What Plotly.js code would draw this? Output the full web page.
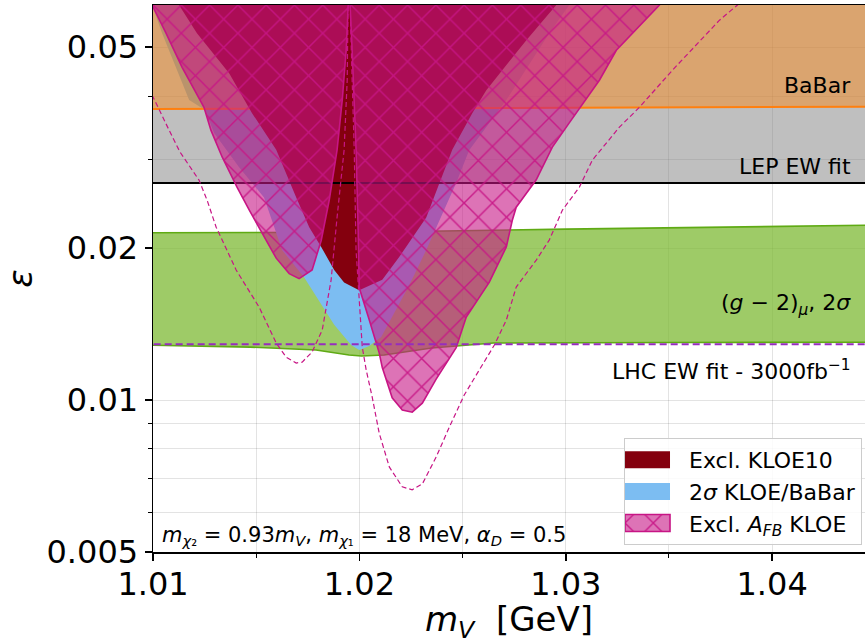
<!DOCTYPE html>
<html>
<head>
<meta charset="utf-8">
<script src="https://cdn.plot.ly/plotly-3.0.1.min.js"></script>
<style>html,body{margin:0;padding:0;background:#fff;}#chart{width:865px;height:644px;}</style>
</head>
<body>
<div id="chart"></div>
<script>
// ---------- data ----------
const xTicks = [1.01, 1.02, 1.03, 1.04];
const xTickText = ['1.01', '1.02', '1.03', '1.04'];
const yTicks = [0.005, 0.01, 0.02, 0.05];
const yTickText = ['0.005', '0.01', '0.02', '0.05'];

// BaBar bound (lower edge of excluded region)
const babarX = [1.0095, 1.045];
const babarY = [0.0377, 0.0381];
// LEP EW fit bound
const lepX = [1.0095, 1.045];
const lepY = [0.0269, 0.0269];
// LHC EW fit projection
const lhcX = [1.0095, 1.045];
const lhcY = [0.0129, 0.0129];
const yTop = 0.07;

// (g-2)_mu 2 sigma band
const g2TopX = [1.0095, 1.02, 1.03, 1.04, 1.045];
const g2TopY = [0.02145, 0.0215, 0.0218, 0.0221, 0.0222];
const g2BotX = [1.0095, 1.0147, 1.0179, 1.0195, 1.0201, 1.0212, 1.0235, 1.0265, 1.035, 1.045];
const g2BotY = [0.01285, 0.01273, 0.01256, 0.01228, 0.01222, 0.01228, 0.01268, 0.01297, 0.0130, 0.01302];

// 2 sigma KLOE/BaBar band
const blueLeftX = [1.0097, 1.00995, 1.01044, 1.01175, 1.01252, 1.01296, 1.01417, 1.01538, 1.01626, 1.01732, 1.01878, 1.01960, 1.01999];
const blueLeftY = [0.07, 0.0606, 0.0533, 0.0393, 0.03752, 0.0338, 0.0289, 0.0252, 0.0198, 0.0175, 0.0141, 0.01285, 0.01256];
const blueRightX = [1.02048, 1.02106, 1.02159, 1.02242, 1.02324, 1.02411, 1.02469, 1.02532, 1.02712, 1.02920, 1.03017, 1.0310];
const blueRightY = [0.01279, 0.01333, 0.01460, 0.01690, 0.01982, 0.02378, 0.0269, 0.03126, 0.03927, 0.0533, 0.0606, 0.07];

// Excl. KLOE10
const kloeX = [1.0108, 1.01126, 1.01213, 1.01369, 1.01480, 1.01597, 1.01694, 1.01757, 1.01815, 1.01878, 1.01926, 1.01999, 1.02111, 1.02193, 1.02324, 1.02450, 1.02547, 1.02615, 1.02809, 1.02954, 1.0303];
const kloeY = [0.07, 0.0606, 0.0533, 0.0444, 0.0370, 0.0313, 0.0252, 0.0220, 0.0201, 0.0181, 0.0171, 0.0165, 0.0173, 0.0192, 0.0230, 0.0313, 0.0370, 0.0411, 0.0516, 0.0606, 0.07];

// Excl. A_FB KLOE: two lobes
const afbLeftX = [1.0095, 1.00995, 1.01063, 1.01141, 1.01247, 1.01281, 1.01335, 1.01407, 1.01466, 1.01529, 1.01597, 1.01660, 1.01708, 1.01771, 1.01815, 1.01854, 1.01892, 1.01917, 1.01936, 1.01946, 1.01948];
const afbLeftY = [0.07, 0.0606, 0.0533, 0.0456, 0.0380, 0.0342, 0.0303, 0.0264, 0.0238, 0.0214, 0.0191, 0.0178, 0.0174, 0.0181, 0.0207, 0.0249, 0.0313, 0.0393, 0.0493, 0.0606, 0.07];
const afbRightX = [1.01953, 1.01955, 1.01965, 1.01975, 1.01984, 1.01994, 1.01999, 1.02048, 1.02096, 1.02111, 1.02159, 1.02208, 1.02256, 1.02305, 1.02372, 1.02469, 1.02518, 1.02629, 1.02712, 1.02741, 1.02760, 1.02857, 1.02935, 1.03017, 1.03163, 1.03245, 1.03454, 1.0352];
const afbRightY = [0.07, 0.0606, 0.0493, 0.0393, 0.0313, 0.0217, 0.0167, 0.0144, 0.0124, 0.0116, 0.0101, 0.00955, 0.00946, 0.00986, 0.0110, 0.0127, 0.0146, 0.0171, 0.0201, 0.0227, 0.0241, 0.0273, 0.0317, 0.0354, 0.0430, 0.0493, 0.0606, 0.07];

// projected A_FB sensitivity (dashed)
const projAX = [1.00995, 1.01015, 1.01078, 1.01131, 1.01223, 1.01262, 1.01306, 1.01403, 1.01514, 1.01597, 1.01645, 1.01694, 1.01723, 1.01771, 1.01820, 1.01863, 1.01892, 1.01926, 1.01941, 1.01946, 1.01947];
const projAY = [0.04017, 0.03873, 0.03424, 0.03098, 0.02726, 0.02489, 0.02200, 0.01809, 0.01528, 0.01297, 0.01216, 0.01184, 0.01189, 0.01245, 0.01376, 0.01728, 0.02303, 0.03126, 0.0430, 0.0606, 0.07];
const projBX = [1.01954, 1.01955, 1.01965, 1.01975, 1.01984, 1.01999, 1.02014, 1.02033, 1.02062, 1.02096, 1.02145, 1.02208, 1.02256, 1.02305, 1.02372, 1.02436, 1.02508, 1.02581, 1.02654, 1.02712, 1.02760, 1.02857, 1.02920, 1.02984, 1.03066, 1.03129, 1.03260, 1.03357, 1.03517, 1.03745, 1.03832, 1.0390];
const projBY = [0.07, 0.0606, 0.0430, 0.0313, 0.0198, 0.01578, 0.01273, 0.01147, 0.01014, 0.00860, 0.00737, 0.00673, 0.00664, 0.00682, 0.00771, 0.00884, 0.01023, 0.01147, 0.01285, 0.0144, 0.01674, 0.01893, 0.02074, 0.02378, 0.02641, 0.02987, 0.03472, 0.0380, 0.04502, 0.05655, 0.0606, 0.065];

// ---------- styles ----------
const FONT = 'DejaVu Sans, Verdana, sans-serif';
const MVR = 'rgb(199,21,133)';
const gridC = 'rgba(0,0,0,0.11)';

const g2PolyX = g2TopX.concat(g2BotX.slice().reverse());
const g2PolyY = g2TopY.concat(g2BotY.slice().reverse());
const bluePolyX = blueLeftX.concat(blueRightX);
const bluePolyY = blueLeftY.concat(blueRightY);
const afbX = afbLeftX.concat([null], afbRightX);
const afbY = afbLeftY.concat([null], afbRightY);

const traces = [
  // g-2 band
  {x: g2PolyX, y: g2PolyY, type: 'scatter', mode: 'lines', fill: 'toself',
   fillcolor: 'rgba(125,186,52,0.75)', line: {width: 0}, showlegend: false, hoverinfo: 'skip'},
  {x: g2TopX, y: g2TopY, type: 'scatter', mode: 'lines', line: {color: 'rgb(95,170,20)', width: 1.6}, showlegend: false, hoverinfo: 'skip'},
  {x: g2BotX, y: g2BotY, type: 'scatter', mode: 'lines', line: {color: 'rgb(95,170,20)', width: 1.6}, showlegend: false, hoverinfo: 'skip'},
  // 2 sigma KLOE/BaBar
  {x: bluePolyX, y: bluePolyY, type: 'scatter', mode: 'lines', fill: 'toself',
   fillcolor: 'rgb(124,189,242)', line: {width: 0}, name: '2<i>σ</i> KLOE/BaBar', legendrank: 2, hoverinfo: 'skip'},
  // BaBar region
  {x: babarX.concat([babarX[1], babarX[0]]), y: babarY.concat([yTop, yTop]), type: 'scatter', mode: 'lines', fill: 'toself',
   fillcolor: 'rgba(205,133,63,0.75)', line: {width: 0}, showlegend: false, hoverinfo: 'skip'},
  // LEP region
  {x: lepX.concat([babarX[1], babarX[0]]), y: lepY.concat([babarY[1], babarY[0]]), type: 'scatter', mode: 'lines', fill: 'toself',
   fillcolor: 'rgba(128,128,128,0.5)', line: {width: 0}, showlegend: false, hoverinfo: 'skip'},
  {x: babarX, y: babarY, type: 'scatter', mode: 'lines', line: {color: 'rgb(255,127,14)', width: 2}, showlegend: false, hoverinfo: 'skip'},
  // KLOE10
  {x: kloeX, y: kloeY, type: 'scatter', mode: 'lines', fill: 'toself',
   fillcolor: 'rgb(132,0,14)', line: {width: 0}, name: 'Excl. KLOE10', legendrank: 1, hoverinfo: 'skip'},
  {x: lepX, y: lepY, type: 'scatter', mode: 'lines', line: {color: 'black', width: 2}, showlegend: false, hoverinfo: 'skip'},
  // A_FB
  {x: afbX, y: afbY, type: 'scatter', mode: 'lines', fill: 'toself',
   fillcolor: 'rgba(199,21,133,0.6)',
   fillpattern: {shape: 'x', size: 20, solidity: 0.14, fgcolor: MVR, bgcolor: 'rgba(199,21,133,0.6)', fgopacity: 0.9},
   line: {color: MVR, width: 1.6}, name: 'Excl. <i>A</i><sub><i>FB</i></sub> KLOE', legendrank: 3, hoverinfo: 'skip'},
  // projections
  {x: projAX, y: projAY, type: 'scatter', mode: 'lines', line: {color: MVR, width: 1.2, dash: '5px,3px'}, showlegend: false, hoverinfo: 'skip'},
  {x: projBX, y: projBY, type: 'scatter', mode: 'lines', line: {color: MVR, width: 1.2, dash: '5px,3px'}, showlegend: false, hoverinfo: 'skip'},
  // LHC
  {x: lhcX, y: lhcY, type: 'scatter', mode: 'lines', line: {color: 'rgb(150,45,190)', width: 2, dash: '7px,4px'}, showlegend: false, hoverinfo: 'skip'}
];

const annFont = {family: FONT, size: 22, color: 'black'};
const layout = {
  width: 865, height: 644,
  margin: {l: 153, r: 0, t: 5, b: 92},
  paper_bgcolor: 'white', plot_bgcolor: 'white',
  font: {family: FONT, color: 'black'},
  showlegend: true,
  legend: {x: 0.9958, y: 0.0128, xanchor: 'right', yanchor: 'bottom',
    bgcolor: 'rgba(255,255,255,0.85)', bordercolor: 'rgb(204,204,204)', borderwidth: 1,
    font: {family: FONT, size: 22, color: 'black'}, itemwidth: 54, tracegroupgap: 0},
  xaxis: {
    range: [1.01, 1.0445], tickvals: xTicks, ticktext: xTickText,
    ticks: 'outside', ticklen: 7, tickwidth: 1.5, tickcolor: 'black',
    showline: true, linecolor: 'black', linewidth: 1.5, mirror: true,
    showgrid: true, gridcolor: gridC, gridwidth: 1, zeroline: false,
    ticklabelstandoff: -4,
    minor: {tickvals: [1.015, 1.025, 1.035], ticks: 'outside', ticklen: 4, tickwidth: 1, tickcolor: 'black', showgrid: true, gridcolor: gridC, gridwidth: 1},
    tickfont: {family: FONT, size: 32, color: 'black'},
    title: {text: '<i>m</i><sub><i>V</i></sub>\u00a0\u00a0[GeV]', font: {family: FONT, size: 34, color: 'black'}, standoff: 14}
  },
  yaxis: {
    type: 'log', range: [Math.log10(0.005), Math.log10(0.0606)],
    tickvals: yTicks, ticktext: yTickText,
    ticks: 'outside', ticklen: 7, tickwidth: 1.5, tickcolor: 'black',
    showline: true, linecolor: 'black', linewidth: 1.5, mirror: true,
    showgrid: true, gridcolor: gridC, gridwidth: 1, zeroline: false,
    minor: {tickvals: [0.006, 0.007, 0.008, 0.009, 0.03, 0.04], ticks: 'outside', ticklen: 4, tickwidth: 1, tickcolor: 'black', showgrid: true, gridcolor: gridC, gridwidth: 1},
    tickfont: {family: FONT, size: 32, color: 'black'},
    title: {text: '<i>ε</i>', font: {family: FONT, size: 34, color: 'black'}, standoff: 18}
  },
  annotations: [
    {xref: 'paper', yref: 'paper', x: 0.983, y: 0.852, xanchor: 'right', yanchor: 'middle', showarrow: false, text: 'BaBar', font: annFont},
    {xref: 'paper', yref: 'paper', x: 0.983, y: 0.704, xanchor: 'right', yanchor: 'middle', showarrow: false, text: 'LEP EW fit', font: annFont},
    {xref: 'paper', yref: 'paper', x: 0.983, y: 0.452, xanchor: 'right', yanchor: 'middle', showarrow: false, text: '(<i>g</i> − 2)<sub><i>μ</i></sub>, 2<i>σ</i>', font: annFont},
    {xref: 'paper', yref: 'paper', x: 0.983, y: 0.333, xanchor: 'right', yanchor: 'middle', showarrow: false, text: 'LHC EW fit - 3000fb<sup>−1</sup>', font: {family: FONT, size: 22, color: 'black'}},
    {xref: 'paper', yref: 'paper', x: 0.0098, y: 0.03, xanchor: 'left', yanchor: 'middle', showarrow: false,
     text: '<i>m</i><sub><i>χ</i>₂</sub> = 0.93<i>m</i><sub><i>V</i></sub>, <i>m</i><sub><i>χ</i>₁</sub> = 18 MeV, <i>α</i><sub><i>D</i></sub> = 0.5', font: {family: FONT, size: 21, color: 'black'}}
  ]
};

Plotly.newPlot('chart', traces, layout, {displayModeBar: false, staticPlot: true}).then(function () {
  // enlarge the legend patches into matplotlib-like rectangles
  document.querySelectorAll('.legend .traces').forEach(function (g) {
    g.querySelectorAll('.legendfill path').forEach(function (p) {
      p.setAttribute('d', 'M0,-8.5h45v17h-45z');
    });
    g.querySelectorAll('.legendlines path').forEach(function (p) {
      p.setAttribute('d', 'M0,-8.5h45v17h-45z');
      p.style.fill = 'none';
    });
  });
});
</script>
</body>
</html>
